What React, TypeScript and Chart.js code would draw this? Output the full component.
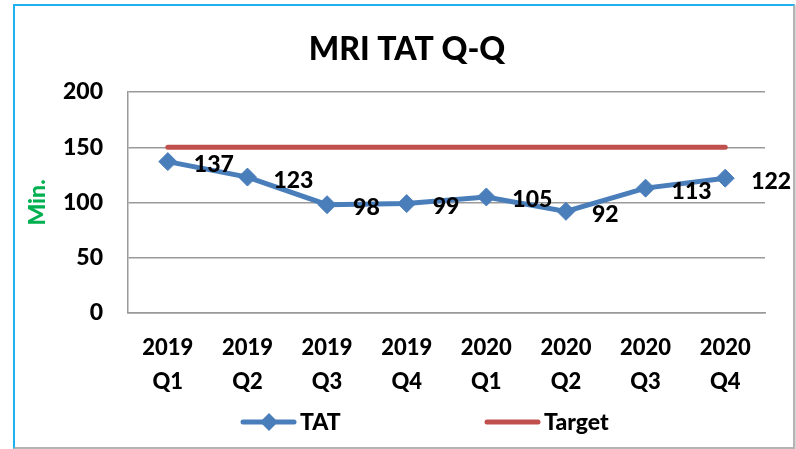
import React, { useEffect, useRef } from "react";
import { Chart, registerables } from "chart.js";

Chart.register(...registerables);

const chartTitle = "MRI TAT Q-Q";
const categories: string[][] = [
  ["2019", "Q1"], ["2019", "Q2"], ["2019", "Q3"], ["2019", "Q4"],
  ["2020", "Q1"], ["2020", "Q2"], ["2020", "Q3"], ["2020", "Q4"],
];
const tatValues: number[] = [137, 123, 98, 99, 105, 92, 113, 122];
const targetValues: number[] = [150, 150, 150, 150, 150, 150, 150, 150];
const yTicks: number[] = [0, 50, 100, 150, 200];

const FONT = "Lato, 'Open Sans', sans-serif";
const W = 900;
const BLUE = "#4a7ebb";
const RED = "#c0504d";
const GRID = "#9a9a9a";

const titlePlugin = {
  id: "frameTitle",
  afterDraw(chart: any) {
    const ctx = chart.ctx;
    ctx.save();
    ctx.font = `${W} 32px ${FONT}`;
    ctx.fillStyle = "#000";
    ctx.textAlign = "center";
    ctx.textBaseline = "middle";
    ctx.fillText(chartTitle, 407, 50);
    ctx.restore();
  },
};

const labelPlugin = {
  id: "valueLabels",
  afterDatasetsDraw(chart: any) {
    const ctx = chart.ctx;
    const meta = chart.getDatasetMeta(0);
    const data = chart.data.datasets[0].data as number[];
    ctx.save();
    ctx.font = `${W} 23px ${FONT}`;
    ctx.fillStyle = "#000";
    ctx.textAlign = "left";
    ctx.textBaseline = "middle";
    meta.data.forEach((pt: any, i: number) => {
      ctx.fillText(String(data[i]), pt.x + 26, pt.y + 3);
    });
    ctx.restore();
  },
};

const legendPlugin = {
  id: "customLegend",
  afterDraw(chart: any) {
    const ctx = chart.ctx;
    const y = chart.chartArea.bottom + 109;
    const items = [
      { x: 241, ds: chart.data.datasets[0], marker: true },
      { x: 485, ds: chart.data.datasets[1], marker: false },
    ];
    ctx.save();
    items.forEach((it) => {
      ctx.strokeStyle = it.ds.borderColor;
      ctx.lineWidth = 5;
      ctx.lineCap = "round";
      ctx.beginPath();
      ctx.moveTo(it.x + 2, y);
      ctx.lineTo(it.x + 53, y);
      ctx.stroke();
      if (it.marker) {
        const cx = it.x + 28;
        const r = 9;
        ctx.fillStyle = it.ds.pointBackgroundColor;
        ctx.beginPath();
        ctx.moveTo(cx - r, y);
        ctx.lineTo(cx, y - r);
        ctx.lineTo(cx + r, y);
        ctx.lineTo(cx, y + r);
        ctx.closePath();
        ctx.fill();
      }
      ctx.fillStyle = "#000";
      ctx.font = `${W} 23px ${FONT}`;
      ctx.textAlign = "left";
      ctx.textBaseline = "middle";
      ctx.fillText(it.ds.label, it.x + 59, y + 1);
    });
    ctx.restore();
  },
};

export default function App() {
  const canvasRef = useRef<HTMLCanvasElement | null>(null);

  useEffect(() => {
    if (!canvasRef.current) return;
    const chart = new Chart(canvasRef.current, {
      type: "line",
      data: {
        labels: categories,
        datasets: [
          {
            label: "TAT",
            data: tatValues,
            borderColor: BLUE,
            backgroundColor: BLUE,
            pointBackgroundColor: BLUE,
            pointBorderColor: BLUE,
            borderWidth: 5,
            pointStyle: "rectRot",
            pointRadius: 9,
            pointBorderWidth: 1,
            tension: 0,
            order: 0,
          },
          {
            label: "Target",
            data: targetValues,
            borderColor: RED,
            backgroundColor: RED,
            borderWidth: 5,
            borderCapStyle: "round",
            pointRadius: 0,
            tension: 0,
            order: 1,
          },
        ],
      },
      options: {
        animation: false,
        responsive: false,
        maintainAspectRatio: false,
        layout: { padding: { left: 24, right: 31, top: 92, bottom: 0 } },
        plugins: {
          legend: { display: false },
          tooltip: { enabled: false },
          title: { display: false },
        },
        scales: {
          x: {
            offset: true,
            grid: { display: false, drawTicks: false },
            border: { display: true, color: GRID, width: 1.5 },
            ticks: {
              color: "#000",
              font: { family: FONT, size: 22, weight: W, lineHeight: 1.55 },
              padding: 18,
              maxRotation: 0,
              autoSkip: false,
            },
            afterFit: (s: any) => { s.height = 136; },
          },
          y: {
            min: 0,
            max: 200,
            grid: { color: GRID, lineWidth: 1.5, drawTicks: false },
            border: { display: true, color: GRID, width: 1.5 },
            ticks: {
              color: "#000",
              font: { family: FONT, size: 23, weight: W },
              padding: 25,
              stepSize: 50,
              callback: (v: any) => (yTicks.includes(Number(v)) ? String(v) : ""),
            },
            title: {
              display: true,
              text: "Min.",
              color: "#00b050",
              font: { family: FONT, size: 23, weight: W, lineHeight: 1.2 },
              padding: 0,
            },
            afterFit: (s: any) => { s.width = 104; },
          },
        },
      },
      plugins: [labelPlugin, legendPlugin, titlePlugin],
    });
    return () => chart.destroy();
  }, []);

  return (
    <div style={{ position: "fixed", left: 0, top: 0, width: 796, height: 449, background: "#fff" }}>
      <div
        style={{
          position: "absolute",
          left: 13,
          top: 4,
          width: 778,
          height: 441,
          borderTop: "2px solid #1eb2f0",
          borderLeft: "2px solid #1eb2f0",
          borderRight: "2px solid #b4b4b4",
          borderBottom: "2px solid #b4b4b4",
          boxShadow: "1px 1px 0 #d8d8d8",
        }}
      />
      <canvas
        ref={canvasRef}
        width={796}
        height={449}
        style={{ position: "absolute", left: 0, top: 0, width: 796, height: 449 }}
      />
    </div>
  );
}
